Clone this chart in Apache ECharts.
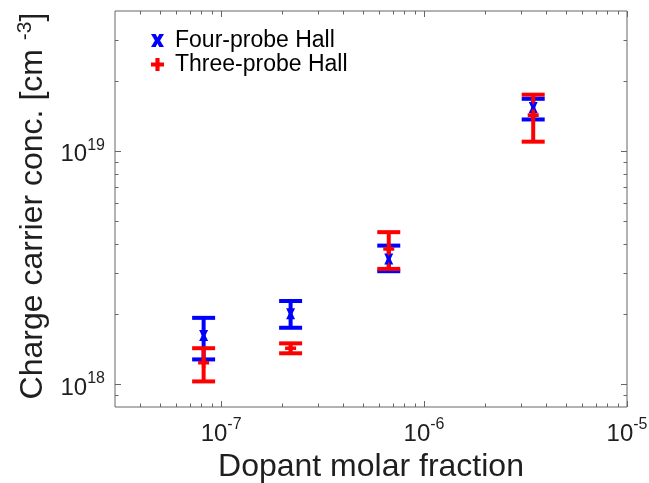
<!DOCTYPE html>
<html>
<head>
<meta charset="utf-8">
<script src="https://cdn.jsdelivr.net/npm/echarts@6/dist/echarts.min.js"></script>
<style>html,body{margin:0;padding:0;background:#fff}#chart{width:649px;height:483px}</style>
</head>
<body>
<div id="chart"></div>
<script>
// four-probe Hall measurements
var fourX = [8.2e-8, 2.2e-7, 6.7e-7, 3.45e-6];
var fourY = [1.62e18, 2.01e18, 3.45e18, 1.54e19];
var fourLo = [1.28e18, 1.75e18, 3.06e18, 1.37e19];
var fourHi = [1.93e18, 2.28e18, 3.94e18, 1.68e19];

// three-probe Hall measurements
var threeX = [8.2e-8, 2.2e-7, 6.7e-7, 3.45e-6];
var threeY = [1.24e18, 1.43e18, 3.81e18, 1.43e19];
var threeLo = [1.03e18, 1.36e18, 3.13e18, 1.10e19];
var threeHi = [1.43e18, 1.50e18, 4.50e18, 1.75e19];

// axis ranges and tick values
var xRange = [3e-8, 1e-5];
var yRange = [8e17, 4e19];
var xMajor = [1e-7, 1e-6, 1e-5];
var xMinor = [4e-8, 5e-8, 6e-8, 7e-8, 8e-8, 9e-8,
  2e-7, 3e-7, 4e-7, 5e-7, 6e-7, 7e-7, 8e-7, 9e-7,
  2e-6, 3e-6, 4e-6, 5e-6, 6e-6, 7e-6, 8e-6, 9e-6];
var yMajor = [1e18, 1e19];
var yMinor = [9e17, 2e18, 3e18, 4e18, 5e18, 6e18, 7e18, 8e18, 9e18, 2e19, 3e19];

var FONT = '"Liberation Sans", Arial, Helvetica, sans-serif';
var TXT = '#1f1f1f';
var AX = '#666';
var xPath = 'path://M0,0 L3.6,0 L5,2.6 L6.4,0 L10,0 L7,5 L10,10 L6.4,10 L5,7.4 L3.6,10 L0,10 L3,5 Z';
var plusPath = 'path://M3.4,0 H6.6 V3.4 H10 V6.6 H6.6 V10 H3.4 V6.6 H0 V3.4 H3.4 Z';

function zip3(a, b, c) {
  return a.map(function (v, i) { return [v, b[i], c[i]]; });
}
function zip2(a, b) {
  return a.map(function (v, i) { return [v, b[i]]; });
}

function errRender(color) {
  return function (params, api) {
    var x = api.value(0);
    var top = api.coord([x, api.value(2)]);
    var bot = api.coord([x, api.value(1)]);
    var hw = 11.5;
    var st = { stroke: color, lineWidth: 4 };
    return {
      type: 'group',
      children: [
        { type: 'line', shape: { x1: top[0], y1: top[1], x2: bot[0], y2: bot[1] }, style: st },
        { type: 'line', shape: { x1: top[0] - hw, y1: top[1], x2: top[0] + hw, y2: top[1] }, style: st },
        { type: 'line', shape: { x1: bot[0] - hw, y1: bot[1], x2: bot[0] + hw, y2: bot[1] }, style: st }
      ]
    };
  };
}

function tickRender(dir, len) {
  return function (params, api) {
    var cs = params.coordSys;
    var p = api.coord([api.value(0), api.value(1)]);
    var st = { stroke: AX, lineWidth: 1 };
    var l;
    if (dir === 'x') {
      var x = Math.round(p[0]) + 0.5;
      l = [[x, cs.y + cs.height, x, cs.y + cs.height - len], [x, cs.y, x, cs.y + len]];
    } else {
      var y = Math.round(p[1]) + 0.5;
      l = [[cs.x, y, cs.x + len, y], [cs.x + cs.width, y, cs.x + cs.width - len, y]];
    }
    return {
      type: 'group',
      children: l.map(function (s) {
        return { type: 'line', shape: { x1: s[0], y1: s[1], x2: s[2], y2: s[3] }, style: st };
      })
    };
  };
}

function powLabel(v) {
  var lg = Math.log10(v);
  var e = Math.round(lg);
  if (Math.abs(lg - e) > 1e-6) return '';
  return '{b|10}{s|' + e + '}';
}

var labelRich = {
  b: { fontSize: 24, fontFamily: FONT, color: TXT, lineHeight: 24, verticalAlign: 'bottom' },
  s: { fontSize: 16, fontFamily: FONT, color: TXT, lineHeight: 16, verticalAlign: 'bottom', padding: [0, 0, 13, 0] }
};

var myChart = echarts.init(document.getElementById('chart'));
myChart.setOption({
  animation: false,
  backgroundColor: '#fff',
  grid: {
    left: 115, right: 22, top: 11, bottom: 76,
    outerBoundsMode: 'none', containLabel: false,
    show: true, borderColor: AX, borderWidth: 1
  },
  legend: {
    left: 146, top: 24, orient: 'vertical',
    itemWidth: 13, itemHeight: 13, itemGap: 1,
    textStyle: { fontSize: 23, fontFamily: FONT, color: '#000', padding: [0, 0, 0, 6] },
    data: [
      { name: 'Four-probe Hall', icon: xPath },
      { name: 'Three-probe Hall', icon: plusPath }
    ]
  },
  xAxis: {
    type: 'log', logBase: 10, min: xRange[0], max: xRange[1],
    name: 'Dopant molar fraction', nameLocation: 'middle', nameGap: 44,
    nameTextStyle: { fontSize: 32, fontFamily: FONT, color: TXT },
    axisLine: { show: false }, axisTick: { show: false }, splitLine: { show: false },
    axisLabel: { margin: 15, fontSize: 24, formatter: powLabel, rich: labelRich, showMinLabel: false }
  },
  yAxis: {
    type: 'log', logBase: 10, min: yRange[0], max: yRange[1],
    name: 'Charge carrier conc. [cm {s|-3}]', nameLocation: 'middle', nameGap: 58,
    nameTextStyle: {
      fontSize: 32, fontFamily: FONT, color: TXT, padding: [0, 0, 0, 6],
      rich: { s: { fontSize: 21, fontFamily: FONT, color: TXT, verticalAlign: 'bottom', padding: [0, 0, 16, 0] } }
    },
    axisLine: { show: false }, axisTick: { show: false }, splitLine: { show: false },
    axisLabel: { margin: 10, fontSize: 24, padding: [7, 0, 0, 0], formatter: powLabel, rich: labelRich, showMinLabel: false, showMaxLabel: false }
  },
  series: [
    { name: 'four-err', type: 'custom', renderItem: errRender('#0000ff'), data: zip3(fourX, fourLo, fourHi), encode: { x: 0, y: [1, 2] }, silent: true },
    { name: 'Four-probe Hall', type: 'scatter', data: zip2(fourX, fourY), symbol: xPath, symbolSize: [9, 11], itemStyle: { color: '#0000ff', opacity: 1 } },
    { name: 'three-err', type: 'custom', renderItem: errRender('#ff0000'), data: zip3(threeX, threeLo, threeHi), encode: { x: 0, y: [1, 2] }, silent: true },
    { name: 'Three-probe Hall', type: 'scatter', data: zip2(threeX, threeY), symbol: plusPath, symbolSize: 11, itemStyle: { color: '#ff0000', opacity: 1 } },
    { name: 'x-major', type: 'custom', renderItem: tickRender('x', 6), data: xMajor.map(function (v) { return [v, yRange[0]]; }), silent: true },
    { name: 'x-minor', type: 'custom', renderItem: tickRender('x', 3.5), data: xMinor.map(function (v) { return [v, yRange[0]]; }), silent: true },
    { name: 'y-major', type: 'custom', renderItem: tickRender('y', 6), data: yMajor.map(function (v) { return [xRange[0], v]; }), silent: true },
    { name: 'y-minor', type: 'custom', renderItem: tickRender('y', 3.5), data: yMinor.map(function (v) { return [xRange[0], v]; }), silent: true }
  ]
});
</script>
</body>
</html>
